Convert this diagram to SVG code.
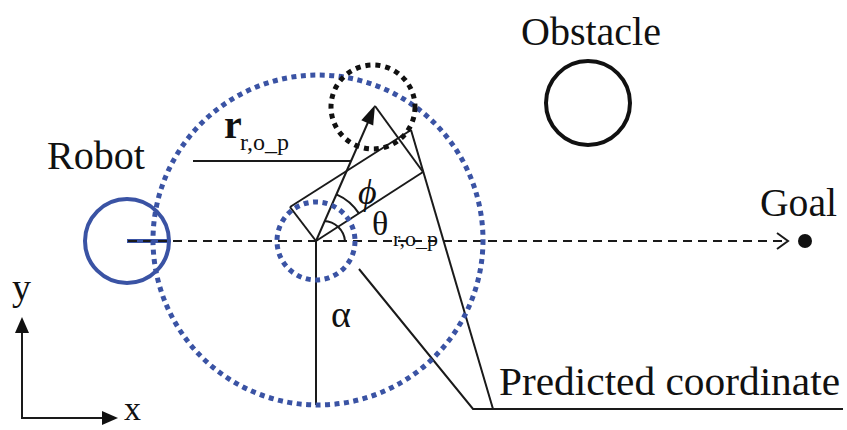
<svg xmlns="http://www.w3.org/2000/svg" width="847" height="430" viewBox="0 0 847 430">
<defs>
<style>
text{font-family:"Liberation Serif","DejaVu Serif",serif;fill:#111}
.lbl{font-size:39px}
.ln{stroke:#1a1a1a;stroke-width:2;fill:none}
.blue{stroke:#3A53A4;fill:none}
.bdot{stroke:#3A53A4;stroke-width:5;stroke-dasharray:5 4.5;fill:none}
.kdot{stroke:#111;stroke-width:5;stroke-dasharray:5 5;fill:none}
.head{fill:#111}
</style>
</defs>
<g id="connectors">
<line class="ln" x1="316" y1="241" x2="423" y2="172"/>
<line class="ln" x1="290" y1="207" x2="411" y2="130"/>
<line class="ln" x1="316" y1="241" x2="290" y2="207"/>
<line class="ln" x1="411" y1="130" x2="493" y2="409"/>
<line class="ln" x1="375" y1="106" x2="423" y2="172"/>
<line class="ln" x1="193" y1="161" x2="351" y2="161"/>
<line class="ln" x1="316" y1="241" x2="316" y2="405"/>
<polyline class="ln" points="359,269 473,409 843,409"/>
<path class="ln" d="M336.4 194.3 A51 51 0 0 1 358.9 213.4"/>
<path class="ln" d="M324 221 A22 22 0 0 1 345 241"/>
<line class="ln" x1="316" y1="241" x2="369" y2="120" stroke-width="2.4"/>
<polygon class="head" points="375,105 373.2,125.4 361.3,120.2"/>
<line class="ln" x1="22" y1="418" x2="22" y2="330" stroke-width="2.5"/>
<polygon class="head" points="22,317 29,333 15,333"/>
<line class="ln" x1="21" y1="418" x2="104" y2="418" stroke-width="2.5"/>
<polygon class="head" points="118,418 102,411 102,425"/>
<line x1="127" y1="241" x2="170" y2="241" stroke="#3A53A4" stroke-width="4"/>
<line class="ln" x1="128" y1="241" x2="786" y2="241" stroke-width="2.5" stroke-dasharray="9 6"/>
<polyline class="ln" points="777,233 788,241 777,249" stroke-width="2.2"/>
</g>
<g id="big-range">
<circle class="bdot" cx="318" cy="240" r="165"/>
</g>
<g id="small-range">
<circle class="bdot" cx="316" cy="241" r="39"/>
</g>
<g id="predicted">
<circle class="kdot" cx="373" cy="107" r="42"/>
</g>
<g id="robot">
<circle class="blue" cx="127" cy="241" r="42" stroke-width="4"/>
<text class="lbl" x="47" y="169" textLength="98" lengthAdjust="spacingAndGlyphs">Robot</text>
</g>
<g id="obstacle">
<circle cx="588" cy="103" r="42" fill="none" stroke="#111" stroke-width="4"/>
<text class="lbl" x="521" y="45" textLength="140" lengthAdjust="spacingAndGlyphs">Obstacle</text>
</g>
<g id="goal">
<circle cx="805" cy="241" r="7" fill="#111"/>
<text class="lbl" x="760" y="216" textLength="77" lengthAdjust="spacingAndGlyphs">Goal</text>
</g>
<g id="labels">
<text class="lbl" x="499" y="395" textLength="341" lengthAdjust="spacingAndGlyphs">Predicted coordinate</text>
<text x="224" y="138" font-size="40" font-weight="bold">r</text>
<text x="240" y="150" font-size="24">r,o_p</text>
<text x="358" y="204" font-size="36" font-style="italic">ϕ</text>
<text x="372" y="235" font-size="34">θ</text>
<text x="393" y="246" font-size="22">r,o_p</text>
<text x="331" y="327" font-size="38">α</text>
<text x="12" y="300" font-size="38">y</text>
<text x="124" y="420" font-size="34">x</text>
</g>
</svg>
